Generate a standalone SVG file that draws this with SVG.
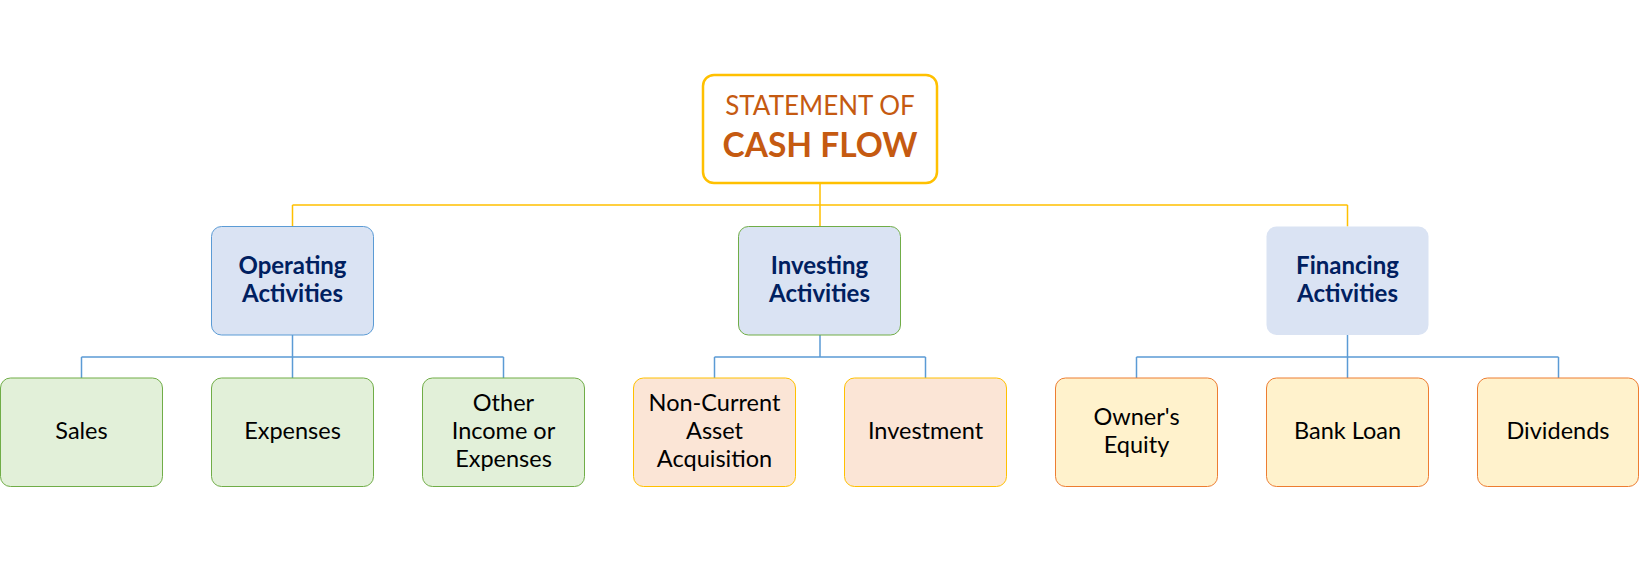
<svg xmlns="http://www.w3.org/2000/svg" width="1640" height="561" viewBox="0 0 1640 561">
<style>
text{font-family:Lato,"Open Sans","Liberation Sans",sans-serif;text-anchor:middle}
.t1{font-size:26px;fill:#C55A11}
.t2{font-size:33.5px;font-weight:bold;fill:#C55A11}
.l2{font-size:24px;font-weight:bold;fill:#002060}
.l3{font-size:23.5px;fill:#000}
.yl{stroke:#FFC000;stroke-width:1.5;fill:none}
.bl{stroke:#5B9BD5;stroke-width:1.5;fill:none}
.top{fill:#fff;stroke:#FFC000;stroke-width:2.5}
.cat{fill:#DAE3F3}
.g{fill:#E2F0D9;stroke:#70AD47;stroke-width:1}
.o{fill:#FBE5D6;stroke:#FFC000;stroke-width:1}
.y{fill:#FFF2CC;stroke:#ED7D31;stroke-width:1}
</style>
<rect width="1640" height="561" fill="#fff"/>
<g id="connectors">
<path class="yl" d="M820 183V205M292.5 205H1347.5M292.5 205V226.5M820 205V226.5M1347.5 205V226.5"/>
<path class="bl" d="M292.5 335V357M81.5 357H503.5M81.5 357V378M292.5 357V378M503.5 357V378"/>
<path class="bl" d="M820 335V357M714.5 357H925.5M714.5 357V378M925.5 357V378"/>
<path class="bl" d="M1347.5 335V357M1136.5 357H1558.5M1136.5 357V378M1347.5 357V378M1558.5 357V378"/>
</g>
<g id="statement">
<rect class="top" x="703" y="75" width="234" height="108" rx="11"/>
<text class="t1" x="820" y="115">STATEMENT OF</text>
<text class="t2" x="820" y="157">CASH FLOW</text>
</g>
<g id="operating">
<rect class="cat" x="211.5" y="226.5" width="162" height="108.5" rx="10" stroke="#5B9BD5" stroke-width="1"/>
<text class="l2" x="292.5" y="274">Operating</text>
<text class="l2" x="292.5" y="302">Activities</text>
</g>
<g id="investing">
<rect class="cat" x="738.5" y="226.5" width="162" height="108.5" rx="10" stroke="#70AD47" stroke-width="1"/>
<text class="l2" x="819.5" y="274">Investing</text>
<text class="l2" x="819.5" y="302">Activities</text>
</g>
<g id="financing">
<rect class="cat" x="1266.5" y="226.5" width="162" height="108.5" rx="10"/>
<text class="l2" x="1347.5" y="274">Financing</text>
<text class="l2" x="1347.5" y="302">Activities</text>
</g>
<g id="sales">
<rect class="g" x="0.5" y="378" width="162" height="108.5" rx="10"/>
<text class="l3" x="81.5" y="439">Sales</text>
</g>
<g id="expenses">
<rect class="g" x="211.5" y="378" width="162" height="108.5" rx="10"/>
<text class="l3" x="292.5" y="439">Expenses</text>
</g>
<g id="other">
<rect class="g" x="422.5" y="378" width="162" height="108.5" rx="10"/>
<text class="l3" x="503.5" y="411">Other</text>
<text class="l3" x="503.5" y="439">Income or</text>
<text class="l3" x="503.5" y="467">Expenses</text>
</g>
<g id="noncurrent">
<rect class="o" x="633.5" y="378" width="162" height="108.5" rx="10"/>
<text class="l3" x="714.5" y="411">Non-Current</text>
<text class="l3" x="714.5" y="439">Asset</text>
<text class="l3" x="714.5" y="467">Acquisition</text>
</g>
<g id="investment">
<rect class="o" x="844.5" y="378" width="162" height="108.5" rx="10"/>
<text class="l3" x="925.5" y="439">Investment</text>
</g>
<g id="equity">
<rect class="y" x="1055.5" y="378" width="162" height="108.5" rx="10"/>
<text class="l3" x="1136.5" y="425">Owner's</text>
<text class="l3" x="1136.5" y="453">Equity</text>
</g>
<g id="bankloan">
<rect class="y" x="1266.5" y="378" width="162" height="108.5" rx="10"/>
<text class="l3" x="1347.5" y="439">Bank Loan</text>
</g>
<g id="dividends">
<rect class="y" x="1477.5" y="378" width="161" height="108.5" rx="10"/>
<text class="l3" x="1558" y="439">Dividends</text>
</g>
</svg>
